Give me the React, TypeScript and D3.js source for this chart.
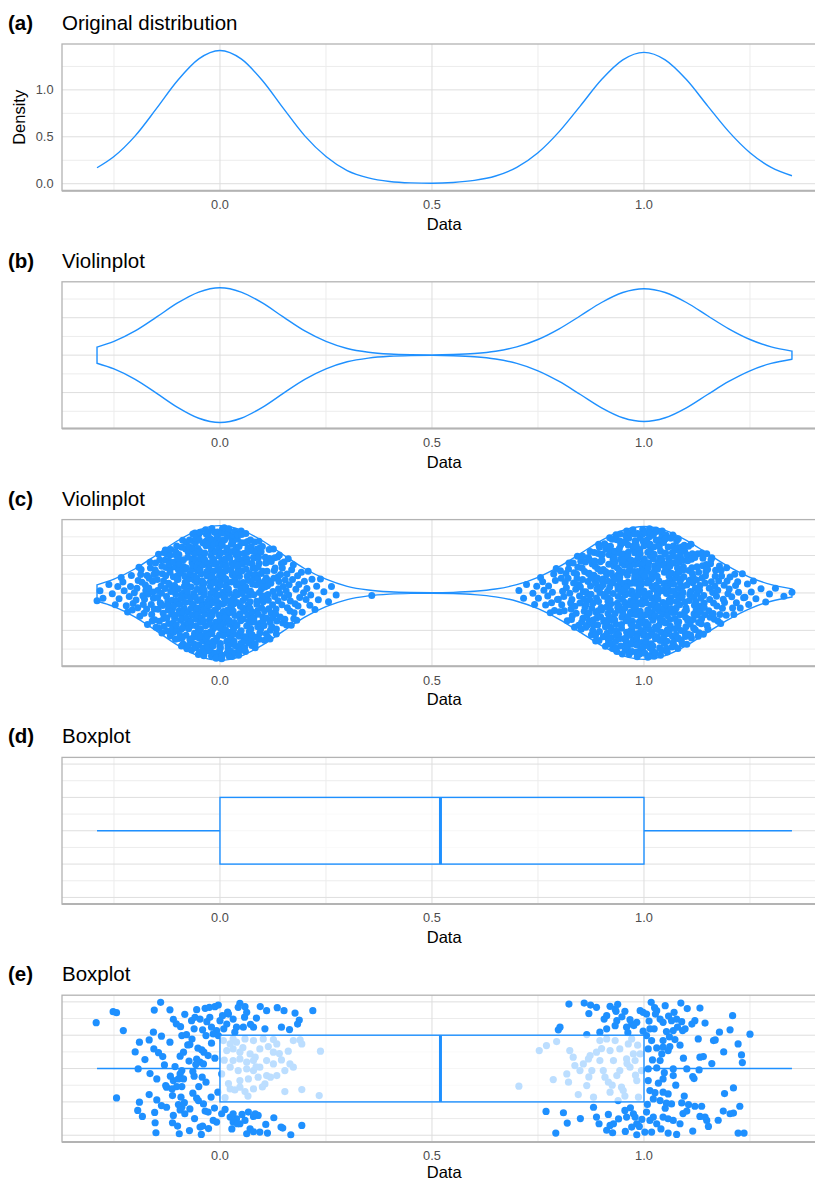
import React from "react";
import * as d3 from "d3";

// Kernel density estimate of the sample (x grid, density)
const densityX = [-0.29, -0.25, -0.2, -0.15, -0.1, -0.05, 0, 0.05, 0.1, 0.15, 0.2, 0.25, 0.3, 0.35, 0.4, 0.45, 0.5, 0.55, 0.6, 0.65, 0.7, 0.75, 0.8, 0.85, 0.9, 0.95, 1.0, 1.05, 1.1, 1.15, 1.2, 1.25, 1.3, 1.349];
const densityY = [0.17, 0.29, 0.51, 0.8, 1.1, 1.33, 1.42, 1.33, 1.1, 0.8, 0.51, 0.29, 0.14, 0.062, 0.024, 0.009, 0.005, 0.013, 0.035, 0.082, 0.174, 0.33, 0.555, 0.83, 1.11, 1.32, 1.4, 1.32, 1.11, 0.83, 0.555, 0.33, 0.174, 0.085];

// Sample values drawn inside the violin
const violinPtsX = [
  -.29, -.283, -.276, -.262, -.254, -.247, -.241, -.238, -.233, -.226, -.221, -.229, -.214, -.218, -.211,
  -.205, -.209, -.202, -.207, -.193, -.198, -.191, -.196, -.194, -.187, -.182, -.189, -.184, -.181, -.186,
  -.175, -.179, -.172, -.178, -.171, -.176, -.173, -.164, -.169, -.16, -.167, -.162, -.165, -.168, -.161,
  -.153, -.157, -.151, -.159, -.155, -.152, -.158, -.154, -.156,
  -.14, -.145, -.141, -.149, -.143, -.147, -.142, -.146, -.148, -.144, -.147,
  -.137, -.133, -.139, -.131, -.135, -.136, -.132, -.138, -.13, -.134, -.133, -.137,
  -.123, -.127, -.121, -.129, -.125, -.122, -.128, -.124, -.126, -.12, -.125, -.121, -.129, -.123,
  -.117, -.112, -.116, -.118, -.114, -.11, -.117, -.113, -.119, -.111, -.115, -.116, -.112, -.118, -.11,
  -.104, -.103, -.107, -.101, -.109, -.105, -.102, -.108, -.104, -.106, -.1, -.105, -.101, -.109, -.103, -.107, -.102,
  -.096, -.098, -.094, -.09, -.097, -.093, -.099, -.091, -.095, -.096, -.092, -.098, -.09, -.094, -.093, -.097, -.091, -.099,
  -.085, -.082, -.088, -.084, -.086, -.08, -.085, -.081, -.089, -.083, -.087, -.082, -.086, -.088, -.084, -.08, -.087, -.083, -.089, -.081,
  -.075, -.076, -.072, -.078, -.07, -.074, -.073, -.077, -.071, -.079, -.075, -.072, -.078, -.074, -.076, -.07, -.075, -.071, -.079, -.073, -.077,
  -.062, -.066, -.068, -.064, -.06, -.067, -.063, -.069, -.061, -.065, -.066, -.062, -.068, -.06, -.064, -.063, -.067, -.061, -.069, -.065, -.062, -.068, -.064,
  -.056, -.05, -.055, -.051, -.059, -.053, -.057, -.052, -.056, -.058, -.054, -.05, -.057, -.053, -.059, -.051, -.055, -.056, -.052, -.058, -.05, -.054, -.053, -.057,
  -.041, -.049, -.045, -.042, -.048, -.044, -.046, -.04, -.045, -.041, -.049, -.043, -.047, -.042, -.046, -.048, -.044, -.04, -.047, -.043, -.049, -.041, -.045, -.046, -.042,
  -.038, -.03, -.034, -.033, -.037, -.031, -.039, -.035, -.032, -.038, -.034, -.036, -.03, -.035, -.031, -.039, -.033, -.037, -.032, -.036, -.038, -.034, -.03, -.037, -.033, -.039,
  -.021, -.025, -.026, -.022, -.028, -.02, -.024, -.023, -.027, -.021, -.029, -.025, -.022, -.028, -.024, -.026, -.02, -.025, -.021, -.029, -.023, -.027, -.022, -.026, -.028, -.024, -.02,
  -.017, -.013, -.019, -.011, -.015, -.016, -.012, -.018, -.01, -.014, -.013, -.017, -.011, -.019, -.015, -.012, -.018, -.014, -.016, -.01, -.015, -.011, -.019, -.013, -.017, -.012, -.016,
  -.008, -.004, 0, -.007, -.003, -.009, -.001, -.005, -.006, -.002, -.008, 0, -.004, -.003, -.007, -.001, -.009, -.005, -.002, -.008, -.004, -.006, 0, -.005, -.001, -.009, -.003,
  .007, .002, .006, .008, .004, .001, .007, .003, .009, .001, .005, .006, .002, .008, .001, .004, .003, .007, .001, .009, .005, .002, .008, .004, .006, .001, .005,
  .011, .019, .013, .017, .012, .016, .018, .014, .01, .017, .013, .019, .011, .015, .016, .012, .018, .01, .014, .013, .017, .011, .019, .015, .012, .018, .014,
  .026, .02, .025, .021, .029, .023, .027, .022, .026, .028, .024, .02, .027, .023, .029, .021, .025, .026, .022, .028, .02, .024, .023, .027, .021, .029,
  .035, .032, .038, .034, .036, .03, .035, .031, .039, .033, .037, .032, .036, .038, .034, .03, .037, .033, .039, .031, .035, .036, .032, .038, .03,
  .044, .043, .047, .041, .049, .045, .042, .048, .044, .046, .04, .045, .041, .049, .043, .047, .042, .046, .048, .044, .04, .047, .043, .049,
  .051, .055, .056, .052, .058, .05, .054, .053, .057, .051, .059, .055, .052, .058, .054, .056, .05, .055, .051, .059, .053, .057, .052,
  .066, .068, .064, .06, .067, .063, .069, .061, .065, .066, .062, .068, .06, .064, .063, .067, .061, .069, .065, .062, .068,
  .074, .076, .07, .075, .071, .079, .073, .077, .072, .076, .078, .074, .07, .077, .073, .079, .071, .075, .076, .072,
  .088, .08, .084, .083, .087, .081, .089, .085, .082, .088, .084, .086, .08, .085, .081, .089, .083, .087,
  .092, .096, .098, .094, .09, .097, .093, .099, .091, .095, .096, .092, .098, .09, .094, .093, .097,
  .101, .109, .105, .102, .108, .104, .106, .1, .105, .101, .109, .103, .107, .102, .106,
  .118, .114, .11, .117, .113, .119, .111, .115, .116, .112, .118, .11, .114, .113,
  .127, .121, .129, .125, .122, .128, .124, .126, .12, .125, .121, .129,
  .133, .137, .132, .136, .138, .134, .13, .137, .133, .139, .131,
  .145, .141, .148, .143, .146, .14, .149, .142, .147,
  .152, .157, .154, .159, .151, .156, .153, .158,
  .166, .161, .168, .163, .165, .169, .162, .174, .171, .177, .173, .179, .175,
  .183, .188, .181, .186, .184, .192, .197, .194, .199, .203, .208, .205, .212, .217, .214,
  .224, .228, .232, .237, .245, .256, .263, .274, .358,
  .705, .716, .723, .738, .742, .747, .751, .756, .764, .768, .761, .773, .779, .775,
  .782, .787, .784, .789, .791, .796, .793, .798, .805, .801, .808, .803, .806,
  .814, .819, .811, .816, .812, .817, .823, .827, .821, .829, .825, .822, .828,
  .834, .836, .83, .835, .831, .839, .833, .837, .842, .846, .848, .844, .84, .847, .843, .849, .841,
  .853, .857, .851, .859, .855, .852, .858, .854, .856, .85, .855,
  .861, .869, .863, .867, .862, .866, .868, .864, .86, .867, .863, .869,
  .871, .875, .876, .872, .878, .87, .874, .873, .877, .871, .879, .875, .872,
  .888, .884, .886, .88, .885, .881, .889, .883, .887, .882, .886, .888, .884, .88, .887,
  .893, .899, .891, .895, .896, .892, .898, .89, .894, .893, .897, .891, .899, .895, .892, .898,
  .904, .906, .9, .905, .901, .909, .903, .907, .902, .906, .908, .904, .9, .907, .903, .909, .901,
  .915, .916, .912, .918, .91, .914, .913, .917, .911, .919, .915, .912, .918, .914, .916, .91, .915, .911, .919,
  .923, .927, .922, .926, .928, .924, .92, .927, .923, .929, .921, .925, .926, .922, .928, .92, .924, .923, .927, .921,
  .939, .935, .932, .938, .934, .936, .93, .935, .931, .939, .933, .937, .932, .936, .938, .934, .93, .937, .933, .939, .931,
  .945, .946, .942, .948, .94, .944, .943, .947, .941, .949, .945, .942, .948, .944, .946, .94, .945, .941, .949, .943, .947, .942,
  .956, .958, .954, .95, .957, .953, .959, .951, .955, .956, .952, .958, .95, .954, .953, .957, .951, .959, .955, .952, .958, .954, .956,
  .96, .965, .961, .969, .963, .967, .962, .966, .968, .964, .96, .967, .963, .969, .961, .965, .966, .962, .968, .96, .964, .963, .967, .961,
  .979, .975, .972, .978, .974, .976, .97, .975, .971, .979, .973, .977, .972, .976, .978, .974, .97, .977, .973, .979, .971, .975, .976, .972, .978,
  .98, .984, .983, .987, .981, .989, .985, .982, .988, .984, .986, .98, .985, .981, .989, .983, .987, .982, .986, .988, .984, .98, .987, .983, .989,
  .991, .995, .996, .992, .998, .99, .994, .993, .997, .991, .999, .995, .992, .998, .994, .996, .99, .995, .991, .999, .993, .997, .992, .996, .998,
  1.004, 1, 1.007, 1.003, 1.009, 1.001, 1.005, 1.006, 1.002, 1.008, 1, 1.004, 1.003, 1.007, 1.001, 1.009, 1.005, 1.002, 1.008, 1.004, 1.006, 1, 1.005, 1.001, 1.009,
  1.013, 1.017, 1.012, 1.016, 1.018, 1.014, 1.01, 1.017, 1.013, 1.019, 1.011, 1.015, 1.016, 1.012, 1.018, 1.01, 1.014, 1.013, 1.017, 1.011, 1.019, 1.015, 1.012, 1.018, 1.014,
  1.026, 1.02, 1.025, 1.021, 1.029, 1.023, 1.027, 1.022, 1.026, 1.028, 1.024, 1.02, 1.027, 1.023, 1.029, 1.021, 1.025, 1.026, 1.022, 1.028, 1.02, 1.024, 1.023, 1.027, 1.021,
  1.039, 1.035, 1.032, 1.038, 1.034, 1.036, 1.03, 1.035, 1.031, 1.039, 1.033, 1.037, 1.032, 1.036, 1.038, 1.034, 1.03, 1.037, 1.033, 1.039, 1.031, 1.035, 1.036, 1.032,
  1.048, 1.04, 1.044, 1.043, 1.047, 1.041, 1.049, 1.045, 1.042, 1.048, 1.044, 1.046, 1.04, 1.045, 1.041, 1.049, 1.043, 1.047, 1.042, 1.046, 1.048, 1.044, 1.04,
  1.057, 1.053, 1.059, 1.051, 1.055, 1.056, 1.052, 1.058, 1.05, 1.054, 1.053, 1.057, 1.051, 1.059, 1.055, 1.052, 1.058, 1.054, 1.056, 1.05, 1.055, 1.051,
  1.069, 1.063, 1.067, 1.062, 1.066, 1.068, 1.064, 1.06, 1.067, 1.063, 1.069, 1.061, 1.065, 1.066, 1.062, 1.068, 1.06, 1.064, 1.063, 1.067, 1.061,
  1.079, 1.075, 1.072, 1.078, 1.074, 1.076, 1.07, 1.075, 1.071, 1.079, 1.073, 1.077, 1.072, 1.076, 1.078, 1.074, 1.07, 1.077, 1.073, 1.079,
  1.081, 1.085, 1.086, 1.082, 1.088, 1.08, 1.084, 1.083, 1.087, 1.081, 1.089, 1.085, 1.082, 1.088, 1.084, 1.086, 1.08, 1.085, 1.081,
  1.099, 1.093, 1.097, 1.092, 1.096, 1.098, 1.094, 1.09, 1.097, 1.093, 1.099, 1.091, 1.095, 1.096, 1.092, 1.098, 1.09,
  1.104, 1.103, 1.107, 1.101, 1.109, 1.105, 1.102, 1.108, 1.104, 1.106, 1.1, 1.105, 1.101, 1.109, 1.103, 1.107,
  1.112, 1.116, 1.118, 1.114, 1.11, 1.117, 1.113, 1.119, 1.111, 1.115, 1.116, 1.112, 1.118, 1.11, 1.114,
  1.123, 1.127, 1.121, 1.129, 1.125, 1.122, 1.128, 1.124, 1.126, 1.12, 1.125, 1.121, 1.129,
  1.133, 1.137, 1.132, 1.136, 1.138, 1.134, 1.13, 1.137, 1.133, 1.139, 1.131, 1.135,
  1.146, 1.142, 1.148, 1.14, 1.144, 1.143, 1.147, 1.141, 1.149, 1.145, 1.142,
  1.158, 1.154, 1.156, 1.15, 1.155, 1.151, 1.159, 1.153, 1.157,
  1.162, 1.166, 1.168, 1.164, 1.16, 1.167, 1.163, 1.169,
  1.171, 1.175, 1.176, 1.172, 1.178, 1.174, 1.179, 1.183, 1.187, 1.181, 1.189, 1.185, 1.182,
  1.198, 1.194, 1.196, 1.19, 1.195, 1.201, 1.209, 1.203, 1.207, 1.212, 1.216, 1.218, 1.214,
  1.223, 1.227, 1.221, 1.235, 1.232, 1.238, 1.244, 1.247, 1.253, 1.258, 1.264, 1.276, 1.287, 1.296, 1.31, 1.33, 1.349,
];
// Position of each violin point across the violin width (-1 = lower edge, 1 = upper edge)
const violinPtsF = [
  -.98, .24, -.53, .71, -.06, -.82, .42, -.35, .89, .12, -.64, .6, -.17, -.93, .3, -.46, .78, .01, -.75, .48, -.28, .96, .19, -.57, .66, -.1, -.86, .37, -.39, .84, .08, -.68, .55, -.21, -.98, .26, -.51, .73, -.03, -.8, .44, -.33, .91, .15, -.62, .62, -.15, -.91, .33, -.44, .8, .03, -.73, .51, -.26,
  .98, -.24, .53, -.71, .06, .82, -.42, .35, -.89, -.12, .64, -.6, .17, .93, -.3, .46, -.78, -.01, .75, -.48, .28, -.96, -.19, .57, -.66, .1, .86, -.37, .39, -.84, -.08, .68, -.55, .21, .98, -.26, .51, -.73, .03, .8, -.44, .33, -.91, -.15, .62, -.62, .15, .91, -.33, .44, -.8, -.03, .73, -.51, .26,
  -.26, .51, -.73, .03, .8, -.44, .33, -.91, -.15, .62, -.62, .15, .91, -.33, .44, -.8, -.03, .73, -.51, .26, -.98, -.21, .55, -.68, .08, .84, -.39, .37, -.86, -.1, .66, -.57, .19, .96, -.28, .48, -.75, .01, .78, -.46, .3, -.93, -.17, .6, -.64, .12, .89, -.35, .42, -.82, -.06, .71, -.53, .24, -.98,
  .26, -.51, .73, -.03, -.8, .44, -.33, .91, .15, -.62, .62, -.15, -.91, .33, -.44, .8, .03, -.73, .51, -.26, .98, .21, -.55, .68, -.08, -.84, .39, -.37, .86, .1, -.66, .57, -.19, -.96, .28, -.48, .75, -.01, -.78, .46, -.3, .93, .17, -.6, .64, -.12, -.89, .35, -.42, .82, .06, -.71, .53, -.24, .98,
  -.98, .24, -.53, .71, -.06, -.82, .42, -.35, .89, .12, -.64, .6, -.17, -.93, .3, -.46, .78, .01, -.75, .48, -.28, .96, .19, -.57, .66, -.1, -.86, .37, -.39, .84, .08, -.68, .55, -.21, -.98, .26, -.51, .73, -.03, -.8, .44, -.33, .91, .15, -.62, .62, -.15, -.91, .33, -.44, .8, .03, -.73, .51, -.26,
  .98, -.24, .53, -.71, .06, .82, -.42, .35, -.89, -.12, .64, -.6, .17, .93, -.3, .46, -.78, -.01, .75, -.48, .28, -.96, -.19, .57, -.66, .1, .86, -.37, .39, -.84, -.08, .68, -.55, .21, .98, -.26, .51, -.73, .03, .8, -.44, .33, -.91, -.15, .62, -.62, .15, .91, -.33, .44, -.8, -.03, .73, -.51, .26,
  -.26, .51, -.73, .03, .8, -.44, .33, -.91, -.15, .62, -.62, .15, .91, -.33, .44, -.8, -.03, .73, -.51, .26, -.98, -.21, .55, -.68, .08, .84, -.39, .37, -.86, -.1, .66, -.57, .19, .96, -.28, .48, -.75, .01, .78, -.46, .3, -.93, -.17, .6, -.64, .12, .89, -.35, .42, -.82, -.06, .71, -.53, .24, -.98,
  .26, -.51, .73, -.03, -.8, .44, -.33, .91, .15, -.62, .62, -.15, -.91, .33, -.44, .8, .03, -.73, .51, -.26, .98, .21, -.55, .68, -.08, -.84, .39, -.37, .86, .1, -.66, .57, -.19, -.96, .28, -.48, .75, -.01, -.78, .46, -.3, .93, .17, -.6, .64, -.12, -.89, .35, -.42, .82, .06, -.71, .53, -.24, .98,
  -.98, .24, -.53, .71, -.06, -.82, .42, -.35, .89, .12, -.64, .6, -.17, -.93, .3, -.46, .78, .01, -.75, .48, -.28, .96, .19, -.57, .66, -.1, -.86, .37, -.39, .84, .08, -.68, .55, -.21, -.98, .26, -.51, .73, -.03, -.8, .44, -.33, .91, .15, -.62, .62, -.15, -.91, .33, -.44, .8, .03, -.73, .51, -.26,
  .98, -.24, .53, -.71, .06, .82, -.42, .35, -.89, -.12, .64, -.6, .17, .93, -.3, .46, -.78, -.01, .75, -.48, .28, -.96, -.19, .57, -.66, .1, .86, -.37, .39, -.84, -.08, .68, -.55, .21, .98, -.26, .51, -.73, .03, .8, -.44, .33, -.91, -.15, .62, -.62, .15, .91, -.33, .44, -.8, -.03, .73, -.51, .26,
  -.26, .51, -.73, .03, .8, -.44, .33, -.91, -.15, .62, -.62, .15, .91, -.33, .44, -.8, -.03, .73, -.51, .26, -.98, -.21, .55, -.68, .08, .84, -.39, .37, -.86, -.1, .66, -.57, .19, .96, -.28, .48, -.75, .01, .78, -.46, .3, -.93, -.17, .6, -.64, .12, .89, -.35, .42, -.82, -.06, .71, -.53, .24, -.98,
  .26, -.51, .73, -.03, -.8, .44, -.33, .91, .15, -.62, .62, -.15, -.91, .33, -.44, .8, .03, -.73, .51, -.26, .98, .21, -.55, .68, -.08, -.84, .39, -.37, .86, .1, -.66, .57, -.19, -.96, .28, -.48, .75, -.01, -.78, .46, -.3, .93, .17, -.6, .64, -.12, -.89, .35, -.42, .82, .06, -.71, .53, -.24, .98,
  -.98, .24, -.53, .71, -.06, -.82, .42, -.35, .89, .12, -.64, .6, -.17, -.93, .3, -.46, .78, .01, -.75, .48, -.28, .96, .19, -.57, .66, -.1, -.86, .37, -.39, .84, .08, -.68, .55, -.21, -.98, .26, -.51, .73, -.03, -.8, .44, -.33, .91, .15, -.62, .62, -.15, -.91, .33, -.44, .8, .03, -.73, .51, -.26,
  .98, -.24, .53, -.71, .06, .82, -.42, .35, -.89, -.12, .64, -.6, .17, .93, -.3, .46, -.78, -.01, .75, -.48, .28, -.96, -.19, .57, -.66, .1, .86, -.37, .39, -.84, -.08, .68, -.55, .21, .98, -.26, .51, -.73, .03, .8, -.44, .33, -.91, -.15, .62, -.62, .15, .91, -.33, .44, -.8, -.03, .73, -.51, .26,
  -.26, .51, -.73, .03, .8, -.44, .33, -.91, -.15, .62, -.62, .15, .91, -.33, .44, -.8, -.03, .73, -.51, .26, -.98, -.21, .55, -.68, .08, .84, -.39, .37, -.86, -.1, .66, -.57, .19, .96, -.28, .48, -.75, .01, .78, -.46, .3, -.93, -.17, .6, -.64, .12, .89, -.35, .42, -.82, -.06, .71, -.53, .24, -.98,
  .26, -.51, .73, -.03, -.8, .44, -.33, .91, .15, -.62, .62, -.15, -.91, .33, -.44, .8, .03, -.73, .51, -.26, .98, .21, -.55, .68, -.08, -.84, .39, -.37, .86, .1, -.66, .57, -.19, -.96, .28, -.48, .75, -.01, -.78, .46, -.3, .93, .17, -.6, .64, -.12, -.89, .35, -.42, .82, .06, -.71, .53, -.24, .98,
  -.98, .24, -.53, .71, -.06, -.82, .42, -.35, .89, .12, -.64, .6, -.17, -.93, .3, -.46, .78, .01, -.75, .48, -.28, .96, .19, -.57, .66, -.1, -.86, .37, -.39, .84, .08, -.68, .55, -.21, -.98, .26, -.51, .73, -.03, -.8, .44, -.33, .91, .15, -.62, .62, -.15, -.91, .33, -.44, .8, .03, -.73, .51, -.26,
  .98, -.24, .53, -.71, .06, .82, -.42, .35, -.89, -.12, .64, -.6, .17, .93, -.3, .46, -.78, -.01, .75, -.48, .28, -.96, -.19, .57, -.66, .1, .86, -.37, .39, -.84, -.08, .68, -.55, .21, .98, -.26, .51, -.73, .03, .8, -.44, .33, -.91, -.15, .62, -.62, .15, .91, -.33, .44, -.8, -.03, .73, -.51, .26,
  -.26, .51, -.73, .03, .8, -.44, .33, -.91, -.15, .62, -.62, .15, .91, -.33, .44, -.8, -.03, .73, -.51, .26, -.98, -.21, .55, -.68, .08, .84, -.39, .37, -.86, -.1, .66, -.57, .19, .96, -.28, .48, -.75, .01, .78, -.46, .3, -.93, -.17, .6, -.64, .12, .89, -.35, .42, -.82, -.06, .71, -.53, .24, -.98,
  .26, -.51, .73, -.03, -.8, .44, -.33, .91, .15, -.62, .62, -.15, -.91, .33, -.44, .8, .03, -.73, .51, -.26, .98, .21, -.55, .68, -.08, -.84, .39, -.37, .86, .1, -.66, .57, -.19, -.96, .28, -.48, .75, -.01, -.78, .46, -.3, .93, .17, -.6, .64, -.12, -.89, .35, -.42, .82, .06, -.71, .53, -.24, .98,
  -.98, .24, -.53, .71, -.06, -.82, .42, -.35, .89, .12, -.64, .6, -.17, -.93, .3, -.46, .78, .01, -.75, .48, -.28, .96, .19, -.57, .66, -.1, -.86, .37, -.39, .84, .08, -.68, .55, -.21, -.98, .26, -.51, .73, -.03, -.8, .44, -.33, .91, .15, -.62, .62, -.15, -.91, .33, -.44, .8, .03, -.73, .51, -.26,
  .98, -.24, .53, -.71, .06, .82, -.42, .35, -.89, -.12, .64, -.6, .17, .93, -.3, .46, -.78, -.01, .75, -.48, .28, -.96, -.19, .57, -.66, .1, .86, -.37, .39, -.84, -.08, .68, -.55, .21, .98, -.26, .51, -.73, .03, .8, -.44, .33, -.91, -.15, .62, -.62, .15, .91, -.33, .44, -.8, -.03, .73, -.51, .26,
  -.26, .51, -.73, .03, .8, -.44, .33, -.91, -.15, .62, -.62, .15, .91, -.33, .44, -.8, -.03, .73, -.51, .26, -.98, -.21, .55, -.68, .08, .84, -.39, .37, -.86, -.1, .66, -.57, .19, .96, -.28, .48, -.75, .01, .78, -.46, .3, -.93, -.17, .6, -.64, .12, .89, -.35, .42, -.82, -.06, .71, -.53, .24, -.98,
  .26, -.51, .73, -.03, -.8, .44, -.33, .91, .15, -.62, .62, -.15, -.91, .33, -.44, .8, .03, -.73, .51, -.26, .98, .21, -.55, .68, -.08, -.84, .39, -.37, .86, .1, -.66, .57, -.19, -.96, .28, -.48, .75, -.01, -.78, .46, -.3, .93, .17, -.6, .64, -.12, -.89, .35, -.42, .82, .06, -.71, .53, -.24, .98,
  -.98, .24, -.53, .71, -.06, -.82, .42, -.35, .89, .12, -.64, .6, -.17, -.93, .3, -.46, .78, .01, -.75, .48, -.28, .96, .19, -.57, .66, -.1, -.86, .37, -.39, .84, .08, -.68, .55, -.21, -.98, .26, -.51, .73, -.03, -.8, .44, -.33, .91, .15, -.62, .62, -.15, -.91, .33, -.44, .8, .03, -.73, .51, -.26,
  .98, -.24, .53, -.71, .06, .82, -.42, .35, -.89, -.12, .64, -.6, .17, .93, -.3, .46, -.78, -.01, .75, -.48, .28, -.96, -.19, .57, -.66, .1, .86, -.37, .39, -.84, -.08, .68, -.55, .21, .98, -.26, .51, -.73, .03, .8, -.44, .33, -.91, -.15, .62, -.62, .15, .91, -.33, .44, -.8, -.03, .73, -.51, .26,
];

// Jittered sample shown over the boxplot (value, vertical jitter)
const jitterX = [
  -.292, -.252, -.244, -.228, -.155, -.14, -.11, -.083, -.055, -.035, -.025, -.012, -.004, .047, .043, .059, .063, .02, .006, .11, .135, .151, .177, .219,
  -.067, -.059, -.047, -.031, -.024, 0, .016, .031, .039, .086, .079, .106, .145, .164, .187, .183,
  -.093, -.061, -.041, -.02, -.008, -.157, -.138, -.09, -.033, -.016, -.004,
  -.19, -.167, -.076, -.071, -.043, -.038, -.028, -.156, -.177, -.135, -.094, -.086, -.055, -.047, -.039, -.131, -.193, -.057,
  -.09, -.094, -.149, -.11, -.098, -.086, -.061, -.042, -.128, -.126, -.113, -.102, -.09, -.05,
  -.244, -.167, -.149, -.112, -.092, -.055, -.051, -.19, -.098, -.09, -.194, -.126, -.094, -.071, -.039, -.035,
  -.183, -.154, -.11, -.083, -.028, -.016, -.008, .004, .024, .039, .047, .067, .079, .09,
  -.153, -.112, -.047, -.041, .031, .041, .108, .127, .144, .148, .193,
  -.151, -.096, .063, .071, .079, .094, .112, .167,
  .009, .055, .059, .083, .031,
  -.118, -.103, -.079, -.066, -.052, -.073, -.118, -.145, -.106, -.064, -.033, -.02, -.012, -.005, -.021, -.064, -.084, -.117, -.138, -.06, -.1, -.072, -.027, -.013, .012, .028, .052, .018, .035, .072, .095, .058, -.044, -.165, -.2,
  .008, .031, .039, .059, .079, .102, .126, .134, .173, .189, .193, .016, .031, .047, .071, .094, .114, .161, .237, .031, .047, .063, .083, .11, .126, .145, .165, .004, .024, .043, .063, .079, .094, .09, .11, .134, .153, .173, .047, .067, .047, .024, .035, .059, .079, .106, .119, .153, .193, .234, .024, .079, .126,
  .01, .02, .054, .066, .085, .1, .14, .012,
  .823, .859, .874, .888, .92, .932, .934, .955, .991, .998, 1.006, 1.017, 1.03, 1.027, 1.05, 1.071, 1.087, 1.132,
  .912, .906, .936, .967, .971, .983, 1.038, 1.045, 1.065, 1.077, 1.089, 1.097, 1.113, 1.12, 1.144, 1.209,
  .802, .798, .896, .912, .932, .959, .998, 1.014, 1.024, 1.053, 1.069, 1.091, 1.178, 1.203, 1.25,
  .865, 1.006, 1.018, 1.045, 1.073, 1.128, 1.164, 1.168, 1.222,
  1.01, 1.03, 1.045, 1.061, 1.057, 1.042, 1.038, 1.093, 1.132, 1.14, 1.23, 1.232,
  1.01, 1.03, 1.069, 1.101, 1.13, 1.115, 1.045, 1.034, 1.01, 1.069, 1.211,
  1.014, 1.045, 1.057, 1.022, 1.038, 1.053, 1.065, 1.089, 1.105, 1.12, 1.136, 1.187, 1.203, 1.211, 1.226,
  .769, .81, .819, .881, .888, .894, .916, .92, .928, .955, .959, .975, .979, .983, .971, .989, 1.006, 1.014, 1.022, 1.03, 1.045, 1.057, 1.069, 1.085, 1.101, 1.132, 1.144, 1.148, 1.152,
  .792, .926, .956, .983, 1.002, 1.018, 1.057, 1.077, 1.222, 1.236,
  .938, .948, .976, .962, 1.012, 1.025, 1.058, 1.079, 1.102, 1.06, 1.085, 1.02, 1.048, 1.075, 1.026, 1.095, 1.118, 1.16, 1.05, 1.008, .968, .94, .995, .912, 1.04, 1.092, 1.115, 1.175, .85, .87, 1.188, 1.19,
  .705, .753, .77, .786, .794, .822, .825, .833, .837, .845, .849, .865, .869, .873, .881, .888, .896, .904, .908, .916, .928, .932, .936, .943, .947, .951, .959, .963, .967, .975, .979, .983, .987, .896, .912, .92, .939, .971, .818, .857, .877, .92, .943, .991, .994,
  .96, .925, .985, .9, .955, .87, .98,
];
const jitterY = [
  .275, .341, .335, .228, .351, .397, .295, .325, .353, .361, .367, .371, .381, .391, .367, .371, .337, .327, .317, .347, .365, .347, .333, .347,
  .287, .307, .297, .281, .307, .287, .267, .297, .248, .303, .248, .238, .248, .234, .291, .267,
  .251, .238, .232, .248, .228, .218, .194, .198, .198, .208, .198,
  .158, .172, .142, .144, .112, .098, .078, .118, .054, .072, .074, .098, .056, .038, .028, .022, -.002, .024,
  -.012, -.032, -.062, -.072, -.062, -.062, -.046, -.052, -.102, -.112, -.122, -.108, -.108, -.108,
  -.176, -.156, -.188, -.162, -.172, -.178, -.192, -.202, -.216, -.232, -.251, -.232, -.248, -.242, -.212, -.255,
  -.287, -.263, -.281, -.271, -.261, -.311, -.321, -.271, -.291, -.301, -.331, -.261, -.287, -.281,
  -.325, -.325, -.351, -.345, -.321, -.331, -.335, -.295, -.351, -.357, -.341,
  -.385, -.391, -.391, -.361, -.379, -.381, -.387, -.397,
  .238, .248, -.311, -.271, -.271,
  .352, .268, .203, .177, .122, .045, .158, .095, .012, -.018, -.082, .152, .062, -.142, -.171, -.148, -.205, -.046, -.222, -.3, -.345, -.372, -.36, -.237, -.245, -.362, -.275, .338, .218, .265, .372, .308, -.395, -.03, .1,
  .168, .178, .158, .178, .168, .178, .174, .148, .168, .172, .148, .108, .118, .098, .088, .118, .132, .104, .104, .048, .058, .038, .068, .048, .028, .052, .028, -.032, .008, -.012, -.002, -.012, .008, -.052, -.042, -.042, -.012, .008, -.072, -.062, -.112, -.122, -.128, -.138, -.122, -.092, -.052, -.138, -.126, -.162, .148, .048, .098,
  .05, -.09, .125, -.165, .01, -.11, .09, -.175,
  .387, .393, .381, .367, .373, .357, .343, .343, .347, .337, .327, .397, .347, .327, .377, .337, .393, .363,
  .317, .297, .287, .293, .267, .277, .297, .277, .287, .297, .281, .238, .267, .287, .273, .317,
  .248, .232, .218, .238, .257, .248, .224, .238, .238, .222, .228, .228, .218, .232, .206,
  .204, .198, .168, .168, .174, .178, .168, .172, .148,
  .118, .124, .128, .132, .108, .088, .048, .062, .068, .072, .082, .036,
  -.002, .004, -.002, -.002, -.008, -.048, -.062, -.088, -.072, -.042, -.116,
  -.132, -.142, -.152, -.182, -.192, -.208, -.212, -.206, -.216, -.226, -.226, -.255, -.271, -.267, -.226,
  -.257, -.265, -.327, -.232, -.291, -.331, -.275, -.341, -.331, -.251, -.291, -.271, -.291, -.331, -.351, -.347, -.261, -.311, -.291, -.331, -.291, -.301, -.311, -.331, -.255, -.287, -.291, -.311, -.347,
  -.387, -.385, -.377, -.397, -.381, -.381, -.387, -.395, -.387, -.387,
  .385, .31, .258, .215, .285, .365, .315, .248, .36, .19, .14, .052, -.025, -.1, -.145, -.165, -.06, .03, -.238, -.215, -.235, -.302, -.305, -.37, -.362, -.27, -.375, -.31, -.3, .33, .1, -.15,
  -.106, .108, .138, -.066, .162, -.082, .108, .068, .018, -.156, -.012, -.102, .058, .078, -.172, .098, .048, -.012, -.052, -.082, .048, .168, -.042, .118, -.112, -.132, .058, .148, .008, .088, .048, -.072, -.172, .168, .178, -.142, -.192, .178, -.032, .028, -.012, .108, -.012, .088, -.012,
  .03, -.1, .14, .12, -.165, -.05, -.04,
];

// Boxplot summary: lower whisker, Q1, median, Q3, upper whisker
const boxStats = [-0.29, 0.0, 0.52, 1.0, 1.349];

const xMajorTicks = [0, 0.5, 1];
const xMinorTicks = [-0.25, 0.25, 0.75, 1.25];
const densityMajorTicks = [0, 0.5, 1];
const densityMinorTicks = [0.25, 0.75, 1.25];
const violinMajorTicks = [-0.25, 0, 0.25];
const violinMinorTicks = [-0.375, -0.125, 0.125, 0.375];
const boxMajorTicks = [-0.4, -0.2, 0, 0.2, 0.4];
const boxMinorTicks = [-0.3, -0.1, 0.1, 0.3];

const panelTags = ["(a)", "(b)", "(c)", "(d)", "(e)"];
const panelTitles = ["Original distribution", "Violinplot", "Violinplot", "Boxplot", "Boxplot"];

const BLUE = "#1E90FF";
const FONT = "'Liberation Sans', Arial, Helvetica, sans-serif";
const LEFT = 62;
const RIGHT = 826.3;
const TOP0 = 44;
const PITCH = 237.8;
const PH = 146.7;

export default function App() {
  const x = d3.scaleLinear().domain([-0.3726, 1.43]).range([LEFT, RIGHT]);
  const maxDens = d3.max(densityY) as number;
  const halfWidth = d3.scaleLinear().domain([0, maxDens]).range([0, 0.45]);
  const densAt = d3.scaleLinear().domain(densityX).range(densityY).clamp(true);
  const fmt = d3.format(".1f");

  const panels = panelTitles.map((title, i) => {
    const top = TOP0 + i * PITCH;
    const bottom = top + PH;
    let domain: [number, number];
    let majors: number[];
    let minors: number[];
    if (i === 0) {
      domain = [-0.0745, 1.489];
      majors = densityMajorTicks;
      minors = densityMinorTicks;
    } else if (i < 3) {
      domain = [-0.49, 0.49];
      majors = violinMajorTicks;
      minors = violinMinorTicks;
    } else {
      domain = [-0.44, 0.44];
      majors = boxMajorTicks;
      minors = boxMinorTicks;
    }
    const y = d3.scaleLinear().domain(domain).range([bottom, top]);
    return { i, title, top, bottom, y, majors, minors };
  });

  const renderGrid = (p: any) => (
    <g>
      {p.minors.map((t: number) => (
        <line key={"hm" + t} x1={LEFT} x2={RIGHT} y1={p.y(t)} y2={p.y(t)} stroke="#ececec" strokeWidth={1} />
      ))}
      {xMinorTicks.map((t) => (
        <line key={"vm" + t} x1={x(t)} x2={x(t)} y1={p.top} y2={p.bottom} stroke="#ececec" strokeWidth={1} />
      ))}
      {p.majors.map((t: number) => (
        <line key={"hM" + t} x1={LEFT} x2={RIGHT} y1={p.y(t)} y2={p.y(t)} stroke="#dedede" strokeWidth={1} />
      ))}
      {xMajorTicks.map((t) => (
        <line key={"vM" + t} x1={x(t)} x2={x(t)} y1={p.top} y2={p.bottom} stroke="#dedede" strokeWidth={1} />
      ))}
    </g>
  );

  const renderFrame = (p: any) => (
    <g>
      <rect x={LEFT} y={p.top} width={RIGHT - LEFT} height={PH} fill="none" stroke="#b3b3b3" strokeWidth={1.3} />
      <line x1={LEFT} x2={RIGHT} y1={p.bottom} y2={p.bottom} stroke="#b3b3b3" strokeWidth={2} />
      <text x={8} y={p.top - 14} fontFamily={FONT} fontSize={20.5} fontWeight="bold" fill="#000">
        {panelTags[p.i]}
      </text>
      <text x={LEFT} y={p.top - 14} fontFamily={FONT} fontSize={20.5} fill="#000">
        {p.title}
      </text>
      {xMajorTicks.map((t) => (
        <text key={"xl" + t} x={x(t)} y={p.bottom + 18.3} textAnchor="middle" fontFamily={FONT} fontSize={12.8} fill="#4d4d4d">
          {fmt(t)}
        </text>
      ))}
      <text x={(LEFT + RIGHT) / 2} y={Math.min(p.bottom + 39, 1178)} textAnchor="middle" fontFamily={FONT} fontSize={16.5} fill="#000">
        Data
      </text>
    </g>
  );

  const pa = panels[0];
  const densityPath = d3
    .line<number>()
    .x((_, k) => x(densityX[k]))
    .y((d) => pa.y(d))
    .curve(d3.curveMonotoneX)(densityY) as string;

  const violinPath = (p: any) =>
    d3
      .area<number>()
      .x((_, k) => x(densityX[k]))
      .y0((d) => p.y(-halfWidth(d)))
      .y1((d) => p.y(halfWidth(d)))
      .curve(d3.curveMonotoneX)(densityY) as string;

  const nViolin = Math.min(violinPtsX.length, violinPtsF.length);
  const nJitter = Math.min(jitterX.length, jitterY.length);
  const [wLo, q1, med, q3, wHi] = boxStats;

  const renderBox = (p: any) => (
    <g>
      <rect
        x={x(q1)}
        y={p.y(0.2)}
        width={x(q3) - x(q1)}
        height={p.y(-0.2) - p.y(0.2)}
        fill="#ffffff"
        fillOpacity={0.7}
        stroke={BLUE}
        strokeWidth={1.4}
      />
      <line x1={x(med)} x2={x(med)} y1={p.y(0.2)} y2={p.y(-0.2)} stroke={BLUE} strokeWidth={3} />
    </g>
  );

  const renderWhiskers = (p: any) => (
    <g>
      <line x1={x(wLo)} x2={x(q1)} y1={p.y(0)} y2={p.y(0)} stroke={BLUE} strokeWidth={1.4} />
      <line x1={x(q3)} x2={x(wHi)} y1={p.y(0)} y2={p.y(0)} stroke={BLUE} strokeWidth={1.4} />
    </g>
  );

  return (
    <svg
      width={815}
      height={1180}
      viewBox="0 0 815 1180"
      style={{ position: "absolute", left: 0, top: 0, background: "#fff" }}
    >
      <rect x={0} y={0} width={815} height={1180} fill="#fff" />

      {/* (a) density curve */}
      {renderGrid(pa)}
      <path d={densityPath} fill="none" stroke={BLUE} strokeWidth={1.4} />
      {densityMajorTicks.map((t) => (
        <text key={"yl" + t} x={53.5} y={pa.y(t)} dy="0.35em" textAnchor="end" fontFamily={FONT} fontSize={12.8} fill="#4d4d4d">
          {fmt(t)}
        </text>
      ))}
      <text
        transform={`translate(24.7, ${(pa.top + pa.bottom) / 2}) rotate(-90)`}
        textAnchor="middle"
        fontFamily={FONT}
        fontSize={16.5}
        fill="#000"
      >
        Density
      </text>
      {renderFrame(pa)}

      {/* (b) violin outline */}
      {renderGrid(panels[1])}
      <path d={violinPath(panels[1])} fill="none" stroke={BLUE} strokeWidth={1.4} />
      {renderFrame(panels[1])}

      {/* (c) violin with points */}
      {renderGrid(panels[2])}
      <path d={violinPath(panels[2])} fill="none" stroke={BLUE} strokeWidth={1.4} />
      <g fill={BLUE}>
        {d3.range(nViolin).map((k) => {
          const v = violinPtsX[k];
          const off = violinPtsF[k] * halfWidth(densAt(v));
          return <circle key={k} cx={x(v)} cy={panels[2].y(off)} r={3.5} />;
        })}
      </g>
      {renderFrame(panels[2])}

      {/* (d) boxplot */}
      {renderGrid(panels[3])}
      {renderWhiskers(panels[3])}
      {renderBox(panels[3])}
      {renderFrame(panels[3])}

      {/* (e) boxplot over jittered points */}
      {renderGrid(panels[4])}
      {renderWhiskers(panels[4])}
      <g fill={BLUE}>
        {d3.range(nJitter).map((k) => (
          <circle key={k} cx={x(jitterX[k])} cy={panels[4].y(jitterY[k])} r={3.6} />
        ))}
      </g>
      {renderBox(panels[4])}
      {renderFrame(panels[4])}
    </svg>
  );
}
